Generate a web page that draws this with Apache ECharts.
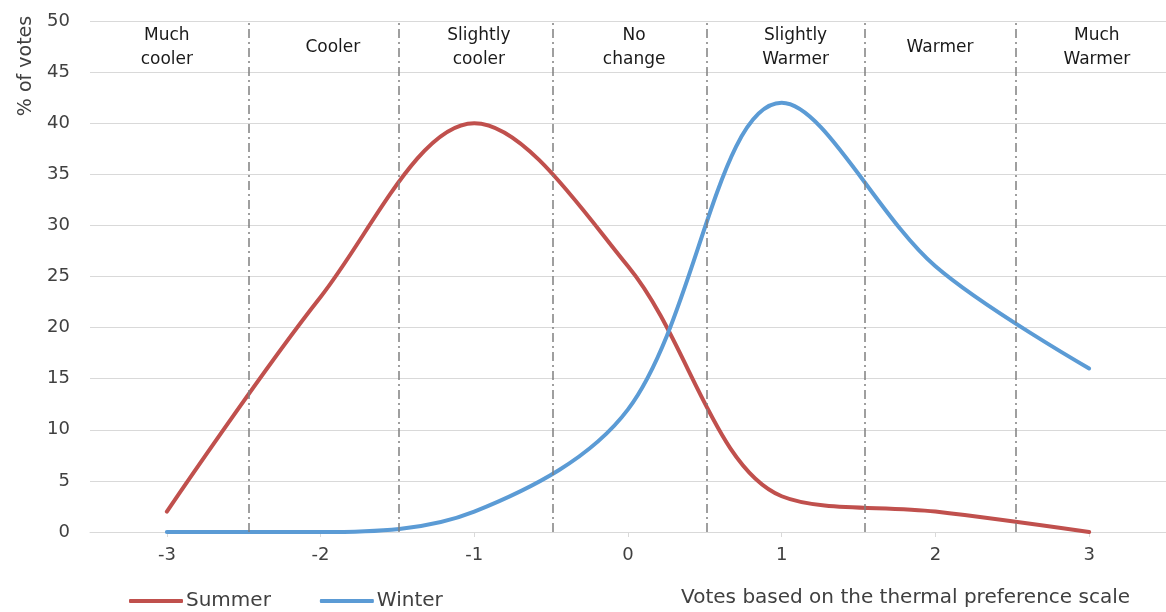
<!DOCTYPE html>
<html>
<head>
<meta charset="utf-8">
<script src="https://cdn.jsdelivr.net/npm/echarts@6/dist/echarts.min.js"></script>
<style>html,body{margin:0;padding:0;background:#fff}#c{width:1166px;height:612px}</style>
</head>
<body>
<div id="c"></div>
<script>
var votes = [-3, -2, -1, 0, 1, 2, 3];
var summer = [2, 23, 40, 26, 3.5, 2, 0];
var winter = [0, 0, 2, 12, 42, 26, 16];
var boundaries = [-2.474, -1.487, -0.494, 0.506, 1.539, 2.519];
var regionNames = ['Much\ncooler', 'Cooler', 'Slightly\ncooler', 'No\nchange', 'Slightly\nWarmer', 'Warmer', 'Much\nWarmer'];
var regionX = [-3, -1.92, -0.97, 0.04, 1.09, 2.03, 3.05];
var regionY = 47.4;

var FONT = 'DejaVu Sans';
var chart = echarts.init(document.getElementById('c'));
chart.setOption({
  animation: false,
  textStyle: { fontFamily: FONT },
  grid: { left: 90, right: 0, top: 21, bottom: 80 },
  xAxis: {
    type: 'value', min: -3.5, max: 3.5,
    axisLine: { show: true, lineStyle: { color: '#d9d9d9', width: 1 } },
    axisTick: { show: true, customValues: votes, length: 5, lineStyle: { color: '#d9d9d9' } },
    axisLabel: { customValues: votes, fontSize: 18, color: '#404040', margin: 14, fontFamily: FONT },
    splitLine: { show: false }
  },
  yAxis: {
    type: 'value', min: 0, max: 50, interval: 5,
    axisLine: { show: false }, axisTick: { show: false },
    axisLabel: { fontSize: 18, color: '#404040', margin: 20, fontFamily: FONT },
    splitLine: { lineStyle: { color: '#d9d9d9', width: 1 } }
  },
  legend: {
    left: 124, top: 586, itemWidth: 54, itemHeight: 4, itemGap: 49,
    icon: 'roundRect',
    data: ['Summer', 'Winter'],
    textStyle: { fontSize: 20, color: '#404040', fontFamily: FONT, padding: [0, 0, 0, -2] }
  },
  graphic: [
    { type: 'text', rotation: Math.PI / 2, x: 26, y: 66,
      style: { text: '% of votes', fontSize: 19, fill: '#404040', fontFamily: FONT, align: 'center', verticalAlign: 'middle' } },
    { type: 'text', x: 1130, y: 598,
      style: { text: 'Votes based on the thermal preference scale', fontSize: 20, fill: '#404040', fontFamily: FONT, align: 'right', verticalAlign: 'middle' } }
  ],
  series: [
    {
      name: 'Summer', type: 'line', smooth: 0.34, symbol: 'none',
      data: votes.map(function (v, i) { return [v, summer[i]]; }),
      lineStyle: { color: '#C0504D', width: 4, cap: 'round' },
      itemStyle: { color: '#C0504D' },
      z: 3,
      markLine: {
        silent: true, symbol: 'none', label: { show: false },
        lineStyle: { color: '#808080', width: 1.5, type: [9, 4, 2, 4] },
        data: boundaries.map(function (b) { return { xAxis: b }; })
      }
    },
    {
      name: 'Winter', type: 'line', smooth: 0.34, symbol: 'none',
      data: votes.map(function (v, i) { return [v, winter[i]]; }),
      lineStyle: { color: '#5B9BD5', width: 4, cap: 'round' },
      itemStyle: { color: '#5B9BD5' },
      z: 3
    },
    {
      name: 'regions', type: 'scatter', symbolSize: 0, silent: true,
      itemStyle: { opacity: 1 },
      data: regionX.map(function (x, i) { return { value: [x, regionY], name: regionNames[i] }; }),
      label: { show: true, position: 'inside', formatter: function (p) { return p.name; },
        fontSize: 17, color: '#1a1a1a', opacity: 1, lineHeight: 24, fontFamily: FONT, align: 'center' }
    }
  ]
});
</script>
</body>
</html>
